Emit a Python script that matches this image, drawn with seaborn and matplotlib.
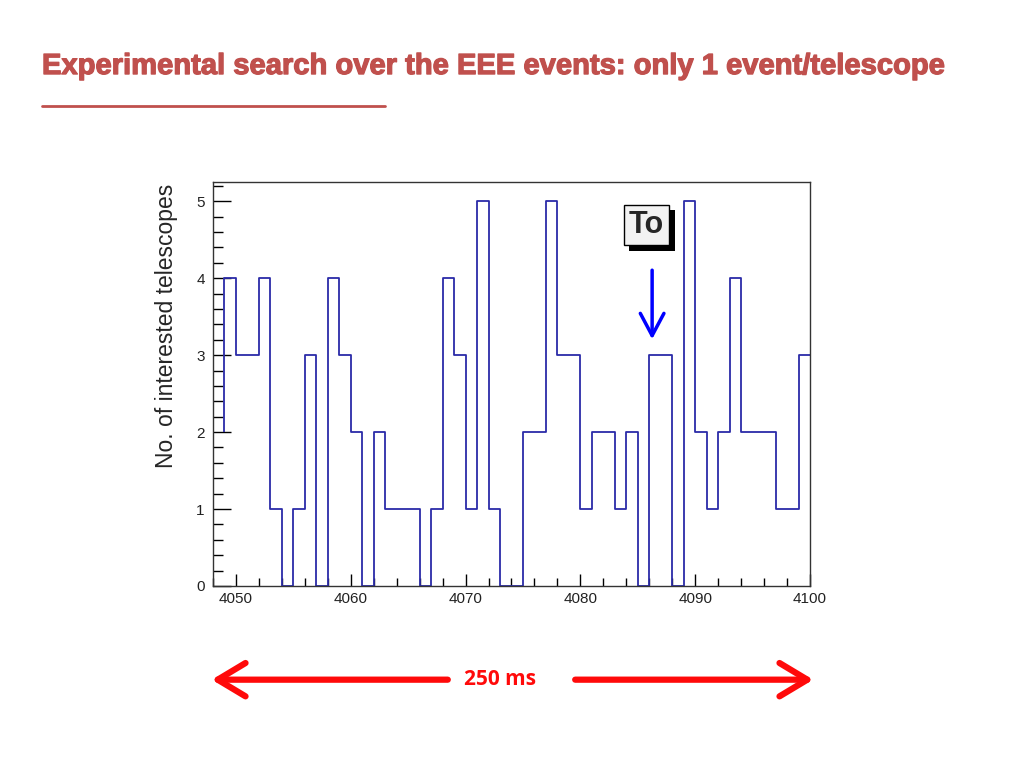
import numpy as np
import pandas as pd
import matplotlib
matplotlib.use("Agg")
import matplotlib.pyplot as plt
import matplotlib.patheffects as pe
from matplotlib.ticker import MultipleLocator
import seaborn as sns

# bin edges (1 ms bins) and number of telescopes per bin
bin_start = 4049
bin_stop = 4100
counts = [4, 3, 3, 4, 1, 0, 1, 3, 0, 4,
          3, 2, 0, 2, 1, 1, 1, 0, 1, 4,
          3, 1, 5, 1, 0, 0, 2, 2, 5, 3,
          3, 1, 2, 2, 1, 2, 0, 3, 3, 0,
          5, 2, 1, 2, 4, 2, 2, 2, 1, 1, 3]
first_level = 2  # level the histogram line starts from at the left edge
to_time = 4086.25

edges = np.arange(bin_start, bin_stop + 1)
df = pd.DataFrame({"t": edges[:-1] + 0.5, "n": counts})

title = "Experimental search over the EEE events: only 1 event/telescope"
ylabel = "No. of interested telescopes"
span_label = "250 ms"

sns.set_style("ticks")
plt.rcParams["font.family"] = ["Liberation Sans", "DejaVu Sans"]

fig = plt.figure(figsize=(10.24, 7.68), dpi=100)
ax = fig.add_axes([0.208, 0.237, 0.583, 0.526])

line_col = "#2b2ba8"
sns.histplot(data=df, x="t", weights="n", bins=len(counts),
             binrange=(bin_start, bin_stop), element="step",
             fill=False, color=line_col, linewidth=1.3, ax=ax)
ax.vlines(edges[0], first_level, counts[0], color=line_col, linewidth=1.3)

ax.set_xlim(4048, 4100)
ax.set_ylim(0, 5.25)
ax.set_xlabel("")
ax.set_ylabel(ylabel, fontsize=16.5)
ax.yaxis.set_label_coords(-0.058, 0.645)

ax.xaxis.set_major_locator(MultipleLocator(10))
ax.xaxis.set_minor_locator(MultipleLocator(2))
ax.yaxis.set_major_locator(MultipleLocator(1))
ax.yaxis.set_minor_locator(MultipleLocator(0.2))
ax.tick_params(axis="both", which="both", direction="in", labelsize=11, colors="black")
ax.tick_params(axis="y", which="major", length=13, width=1, pad=6, labelcolor="#222222")
ax.tick_params(axis="y", which="minor", length=7, width=1)
ax.tick_params(axis="x", which="major", length=8.5, width=1, pad=4, labelcolor="#222222")
ax.tick_params(axis="x", which="minor", length=5.5, width=1)
for s in ax.spines.values():
    s.set_visible(True)
    s.set_color("#333333")
    s.set_linewidth(1)

# "To" marker
t = ax.text(to_time - 0.5, 4.69, "To", fontsize=22, fontweight="bold",
            ha="center", va="center",
            bbox=dict(boxstyle="square,pad=0.17", facecolor="#f2f2f2",
                      edgecolor="black", linewidth=1))
t.get_bbox_patch().set_path_effects([
    pe.SimplePatchShadow(offset=(4, -4), shadow_rgbFace="black", alpha=1),
    pe.Normal()])
ax.annotate("", xy=(to_time, 3.17), xytext=(to_time, 4.14),
            arrowprops=dict(arrowstyle="->,head_length=1.6,head_width=0.85",
                            color="#0000ff", lw=2.5))

# title and underline
red = "#c0504d"
fig.text(0.041, 0.914, title, fontsize=21, fontweight="bold", color=red,
         ha="left", va="center",
         path_effects=[pe.withStroke(linewidth=0.9, foreground=red)])
fig.add_artist(plt.Line2D([0.041, 0.376], [0.862, 0.862], color=red, lw=2,
                          transform=fig.transFigure))

# 250 ms span arrows
span_red = "#ff0a0a"
arrow_kw = dict(arrowstyle="->,head_length=1.0,head_width=0.6",
                color=span_red, lw=4.5, capstyle="round", joinstyle="round")
fig.text(0.488, 0.115, span_label, fontsize=15, fontweight="bold",
         color=span_red, ha="center", va="center", family=["Open Sans", "DejaVu Sans"])
fig.add_artist(matplotlib.patches.FancyArrowPatch(
    (0.440, 0.115), (0.204, 0.115), transform=fig.transFigure,
    mutation_scale=20, **arrow_kw))
fig.add_artist(matplotlib.patches.FancyArrowPatch(
    (0.559, 0.115), (0.797, 0.115), transform=fig.transFigure,
    mutation_scale=20, **arrow_kw))

fig.savefig("out.png", dpi=100)
